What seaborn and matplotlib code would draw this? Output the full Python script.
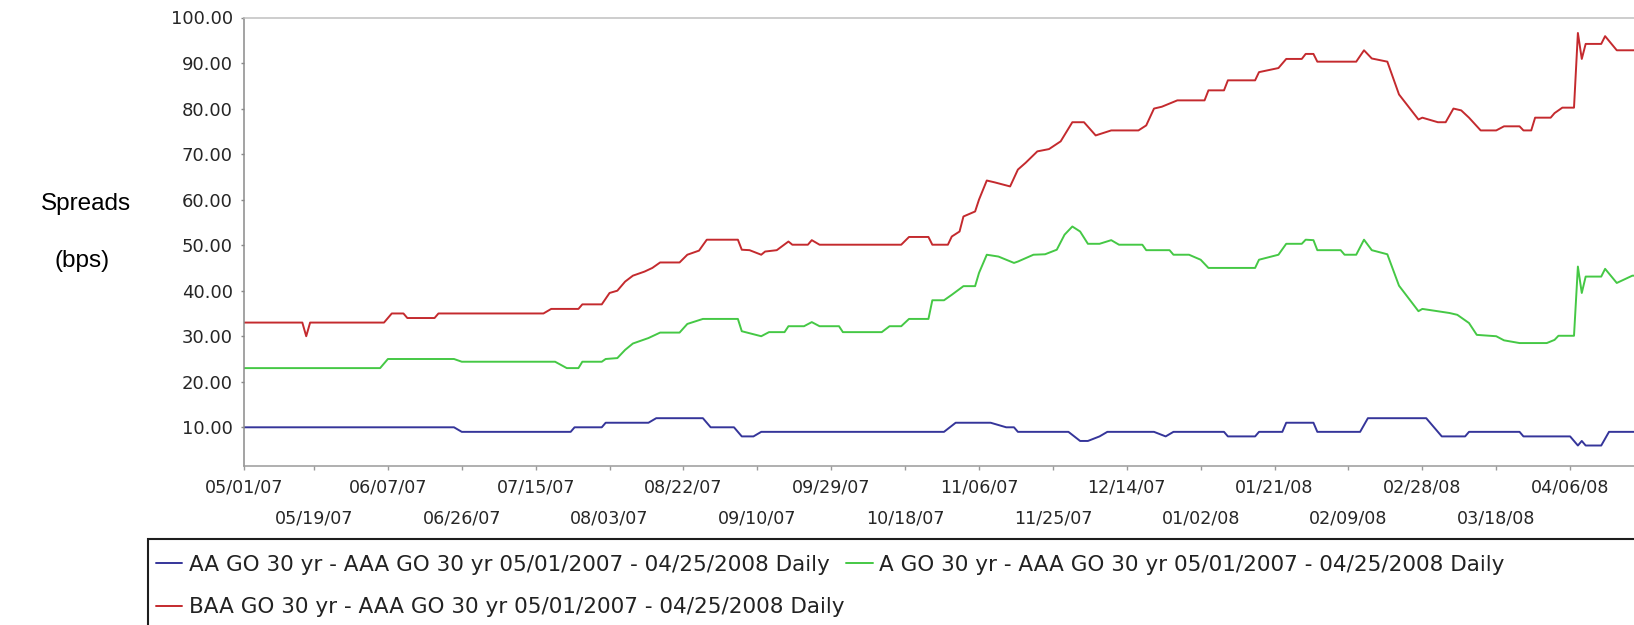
import pandas as pd
import seaborn as sns
import matplotlib.pyplot as plt
import matplotlib.patches as mpatches

# ---- data (bps) ----
aa_dates = ['2007-05-01', '2007-06-24', '2007-06-26', '2007-07-24', '2007-07-25', '2007-08-01',
            '2007-08-02', '2007-08-13', '2007-08-15', '2007-08-27', '2007-08-29', '2007-09-04',
            '2007-09-06', '2007-09-09', '2007-09-11', '2007-10-28', '2007-10-31', '2007-11-09',
            '2007-11-13', '2007-11-15', '2007-11-16', '2007-11-29', '2007-12-02', '2007-12-04',
            '2007-12-07', '2007-12-09', '2007-12-21', '2007-12-24', '2007-12-26', '2008-01-08',
            '2008-01-09', '2008-01-16', '2008-01-17', '2008-01-23', '2008-01-24', '2008-01-31',
            '2008-02-01', '2008-02-12', '2008-02-14', '2008-02-29', '2008-03-04', '2008-03-10',
            '2008-03-11', '2008-03-24', '2008-03-25', '2008-04-06', '2008-04-08', '2008-04-09',
            '2008-04-10', '2008-04-14', '2008-04-16', '2008-04-25']
aa_vals = [10, 10, 9, 9, 10, 10, 11, 11, 12, 12, 10, 10, 8, 8, 9, 9, 11, 11, 10, 10,
           9, 9, 7, 7, 8, 9, 9, 8, 9, 9, 8, 8, 9, 9, 11, 11, 9, 9, 12, 12,
           8, 8, 9, 9, 8, 8, 6, 7, 6, 6, 9, 9]

a_dates = ['2007-05-01', '2007-06-05', '2007-06-07', '2007-06-24', '2007-06-26', '2007-07-20',
           '2007-07-23', '2007-07-26', '2007-07-27', '2007-08-01', '2007-08-02', '2007-08-05',
           '2007-08-07', '2007-08-09', '2007-08-13', '2007-08-16', '2007-08-21', '2007-08-23',
           '2007-08-27', '2007-09-05', '2007-09-06', '2007-09-11', '2007-09-13', '2007-09-17',
           '2007-09-18', '2007-09-22', '2007-09-24', '2007-09-26', '2007-10-01', '2007-10-02',
           '2007-10-12', '2007-10-14', '2007-10-17', '2007-10-19', '2007-10-24', '2007-10-25',
           '2007-10-28', '2007-10-30', '2007-11-02', '2007-11-05', '2007-11-06', '2007-11-08',
           '2007-11-11', '2007-11-15', '2007-11-16', '2007-11-20', '2007-11-23', '2007-11-26',
           '2007-11-28', '2007-11-30', '2007-12-02', '2007-12-04', '2007-12-07', '2007-12-10',
           '2007-12-12', '2007-12-18', '2007-12-19', '2007-12-25', '2007-12-26', '2007-12-30',
           '2008-01-02', '2008-01-04', '2008-01-16', '2008-01-17', '2008-01-22', '2008-01-24',
           '2008-01-28', '2008-01-29', '2008-01-31', '2008-02-01', '2008-02-07', '2008-02-08',
           '2008-02-11', '2008-02-13', '2008-02-15', '2008-02-19', '2008-02-22', '2008-02-27',
           '2008-02-28', '2008-03-06', '2008-03-08', '2008-03-11', '2008-03-13', '2008-03-18',
           '2008-03-20', '2008-03-24', '2008-03-31', '2008-04-02', '2008-04-03', '2008-04-07',
           '2008-04-08', '2008-04-09', '2008-04-10', '2008-04-14', '2008-04-15', '2008-04-18',
           '2008-04-22', '2008-04-25']
a_vals = [23, 23, 25, 25, 24.4, 24.4, 23, 23, 24.4, 24.4, 25, 25.2,
          27, 28.4, 29.6, 30.8, 30.8, 32.7, 33.8, 33.8, 31.1, 30, 30.9, 30.9,
          32.2, 32.2, 33.1, 32.2, 32.2, 30.9, 30.9, 32.2, 32.2, 33.8, 33.8, 37.9,
          37.9, 39.1, 41, 41, 43.9, 47.9, 47.5, 46.1, 46.4, 47.9, 48, 49,
          52.3, 54.1, 53, 50.3, 50.3, 51.1, 50.1, 50.1, 48.9, 48.9, 47.9, 47.9,
          46.8, 45, 45, 46.8, 47.9, 50.3, 50.3, 51.2, 51.1, 48.9, 48.9, 47.9,
          47.9, 51.2, 48.9, 48, 41.1, 35.5, 36, 35.1, 34.7, 32.9, 30.3, 30,
          29.1, 28.5, 28.5, 29.2, 30.1, 30.1, 45.3, 39.5, 43.1, 43.1, 44.8, 41.7,
          43.3, 43.3]

baa_dates = ['2007-05-01', '2007-05-16', '2007-05-17', '2007-05-18', '2007-06-06', '2007-06-08',
             '2007-06-11', '2007-06-12', '2007-06-19', '2007-06-20', '2007-07-17', '2007-07-19',
             '2007-07-26', '2007-07-27', '2007-08-01', '2007-08-03', '2007-08-05', '2007-08-07',
             '2007-08-09', '2007-08-12', '2007-08-14', '2007-08-16', '2007-08-21', '2007-08-23',
             '2007-08-26', '2007-08-28', '2007-09-05', '2007-09-06', '2007-09-08', '2007-09-11',
             '2007-09-12', '2007-09-15', '2007-09-18', '2007-09-19', '2007-09-23', '2007-09-24',
             '2007-09-26', '2007-10-17', '2007-10-19', '2007-10-24', '2007-10-25', '2007-10-29',
             '2007-10-30', '2007-11-01', '2007-11-02', '2007-11-05', '2007-11-06', '2007-11-08',
             '2007-11-10', '2007-11-14', '2007-11-16', '2007-11-18', '2007-11-21', '2007-11-24',
             '2007-11-27', '2007-11-30', '2007-12-03', '2007-12-06', '2007-12-10', '2007-12-17',
             '2007-12-19', '2007-12-21', '2007-12-23', '2007-12-27', '2008-01-03', '2008-01-04',
             '2008-01-08', '2008-01-09', '2008-01-16', '2008-01-17', '2008-01-22', '2008-01-24',
             '2008-01-28', '2008-01-29', '2008-01-31', '2008-02-01', '2008-02-11', '2008-02-13',
             '2008-02-15', '2008-02-19', '2008-02-22', '2008-02-27', '2008-02-28', '2008-03-03',
             '2008-03-05', '2008-03-07', '2008-03-09', '2008-03-11', '2008-03-14', '2008-03-18',
             '2008-03-20', '2008-03-24', '2008-03-25', '2008-03-27', '2008-03-28', '2008-04-01',
             '2008-04-02', '2008-04-04', '2008-04-07', '2008-04-08', '2008-04-09', '2008-04-10',
             '2008-04-14', '2008-04-15', '2008-04-18', '2008-04-25']
baa_vals = [33, 33, 30, 33, 33, 35, 35, 34, 34, 35, 35, 36,
            36, 37, 37, 39.5, 40, 42, 43.3, 44.2, 45, 46.2, 46.2, 47.9,
            48.8, 51.2, 51.2, 49, 48.9, 47.9, 48.6, 48.9, 50.8, 50.1, 50.1, 51.1,
            50.1, 50.1, 51.8, 51.8, 50.1, 50.1, 51.9, 53, 56.3, 57.4, 60, 64.2,
            63.8, 62.9, 66.6, 68.1, 70.6, 71.1, 72.8, 77, 77, 74.1, 75.2, 75.2,
            76.3, 80, 80.4, 81.8, 81.8, 84, 84, 86.2, 86.2, 88, 88.9, 90.9,
            90.9, 92, 92, 90.3, 90.3, 92.8, 91, 90.3, 83.1, 77.6, 78, 77,
            77, 80, 79.6, 78, 75.2, 75.2, 76.1, 76.1, 75.2, 75.2, 78, 78,
            79, 80.2, 80.2, 96.6, 90.9, 94.2, 94.2, 95.9, 92.8, 92.8]

series_names = ['AA GO 30 yr - AAA GO 30 yr 05/01/2007 - 04/25/2008 Daily',
                'A GO 30 yr - AAA GO 30 yr 05/01/2007 - 04/25/2008 Daily',
                'BAA GO 30 yr - AAA GO 30 yr 05/01/2007 - 04/25/2008 Daily']
series_colors = ['#35359a', '#45c845', '#c42a2e']

row1_ticks = ['05/01/07', '06/07/07', '07/15/07', '08/22/07', '09/29/07',
              '11/06/07', '12/14/07', '01/21/08', '02/28/08', '04/06/08']
row2_ticks = ['05/19/07', '06/26/07', '08/03/07', '09/10/07', '10/18/07',
              '11/25/07', '01/02/08', '02/09/08', '03/18/08']
y_ticks = [10, 20, 30, 40, 50, 60, 70, 80, 90, 100]

# ---- long table for seaborn ----
frames = []
for name, d, v in zip(series_names, [aa_dates, a_dates, baa_dates], [aa_vals, a_vals, baa_vals]):
    frames.append(pd.DataFrame({'date': pd.to_datetime(d), 'spread': v, 'series': name}))
df = pd.concat(frames, ignore_index=True)

sns.set_style('white')
plt.rcParams['font.family'] = ['DejaVu Sans']

fig = plt.figure(figsize=(16.34, 6.25), dpi=100)
ax = fig.add_axes([244 / 1634, 1 - 466 / 625, 1400 / 1634, 448.5 / 625])

sns.lineplot(data=df, x='date', y='spread', hue='series', hue_order=series_names,
             palette=dict(zip(series_names, series_colors)), estimator=None,
             linewidth=1.4, legend=False, ax=ax)

ax.set_xlim(pd.Timestamp('2007-05-01'), pd.Timestamp('2008-04-25'))
ax.set_ylim(1.5, 100)
ax.set_xlabel('')
ax.set_ylabel('')

ax.set_yticks(y_ticks)
ax.set_yticklabels([f'{t:.2f}' for t in y_ticks])
ax.set_xticks(pd.to_datetime(row1_ticks, format='%m/%d/%y'))
ax.set_xticklabels(row1_ticks)
ax.set_xticks(pd.to_datetime(row2_ticks, format='%m/%d/%y'), minor=True)
ax.set_xticklabels(row2_ticks, minor=True)

ax.tick_params(axis='y', length=2.2, width=1, color='#888888', pad=5.8,
               labelsize=13, labelcolor='#262626', left=True)
ax.tick_params(axis='x', which='major', length=2.9, width=1, color='#999999', pad=6.4,
               labelsize=12.6, labelcolor='#262626', bottom=True)
ax.tick_params(axis='x', which='minor', length=2.9, width=1, color='#999999', pad=28.7,
               labelsize=12.6, labelcolor='#262626', bottom=True)

ax.spines['left'].set_color('#8a8a8a')
ax.spines['bottom'].set_color('#9a9a9a')
ax.spines['top'].set_color('#c0c0c0')
ax.spines['right'].set_visible(False)
for s in ['left', 'bottom', 'top']:
    ax.spines[s].set_linewidth(1.1)

# side label
fig.text(86 / 1634, 1 - 210 / 625, 'Spreads', ha='center', va='baseline', fontsize=17.5,
         family='Liberation Sans', color='black')
fig.text(82 / 1634, 1 - 267 / 625, '(bps)', ha='center', va='baseline', fontsize=17.5,
         family='Liberation Sans', color='black')

# legend: row-wise order AA, A on top row, BAA below
lines = ax.get_lines()[:3]
handles = [lines[0], lines[2], lines[1]]
labels = [series_names[0], series_names[2], series_names[1]]
fig.legend(handles, labels, loc='upper left', bbox_to_anchor=(156 / 1634, 1 - 555 / 625),
           ncol=2, frameon=False, fontsize=15.5, handlelength=1.22, handletextpad=0.3,
           columnspacing=0.1, labelspacing=1.03, borderpad=0, borderaxespad=0,
           labelcolor='#222222')
box = mpatches.Rectangle((148 / 1634, 1 - 640 / 625), 1500 / 1634, 101 / 625,
                         transform=fig.transFigure, fill=False, ec='#1e1e1e', lw=1.5,
                         clip_on=False)
fig.add_artist(box)

fig.savefig('out.png', dpi=100)
